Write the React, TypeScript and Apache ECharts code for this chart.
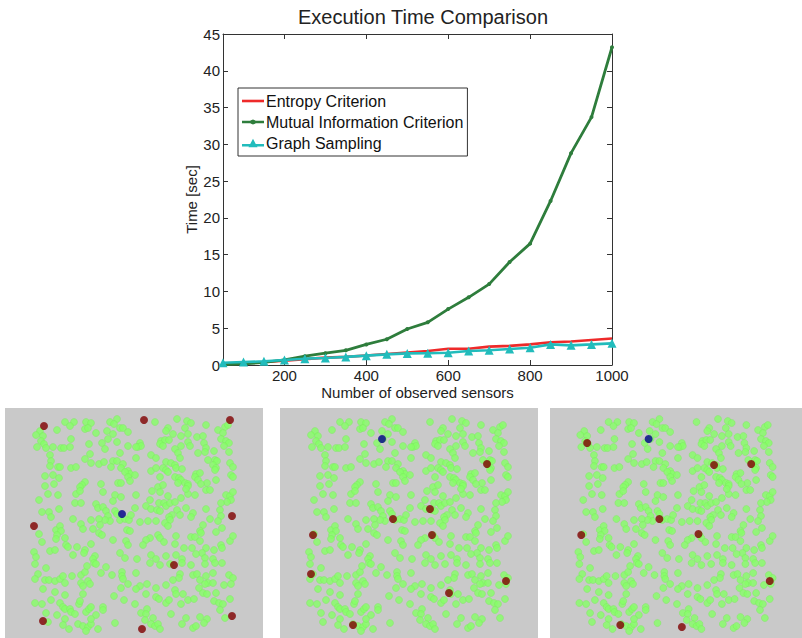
import React, { useEffect, useRef } from "react";
import * as echarts from "echarts";

const X_VALUES = [50, 100, 150, 200, 250, 300, 350, 400, 450, 500, 550, 600, 650, 700, 750, 800, 850, 900, 950, 1000];
const ENTROPY = [0.15, 0.25, 0.4, 0.6, 0.8, 1.0, 1.1, 1.3, 1.5, 1.7, 1.9, 2.2, 2.2, 2.5, 2.6, 2.8, 3.1, 3.2, 3.4, 3.6];
const MUTUAL_INFO = [0.05, 0.15, 0.35, 0.7, 1.2, 1.6, 2.0, 2.8, 3.5, 4.9, 5.8, 7.6, 9.2, 11.0, 14.0, 16.5, 22.3, 28.8, 33.7, 43.2];
const GRAPH_SAMPLING = [0.3, 0.4, 0.5, 0.68, 0.86, 0.95, 1.1, 1.27, 1.45, 1.58, 1.6, 1.67, 1.9, 2.0, 2.17, 2.35, 2.8, 2.67, 2.8, 2.94];
const X_TICKS = [200, 400, 600, 800, 1000];
const SERIES_NAMES = ["Entropy Criterion", "Mutual Information Criterion", "Graph Sampling"];

// sensor layout (same in all three panels), panel-relative units
const SENSORS: number[][] = [
  [60,14],[69,14],[65,18],[81,14],[86,15],[80,21],[83,20],[105,14],[112,11],[109,16],[115,20],[118,20],[123,24],[52,22],[35,23],[31,27],[38,28],[36,33],[39,36],[32,39],[41,40],[48,39],[56,40],[59,40],[65,39],[66,31],[91,25],[102,23],[108,26],[103,31],[97,35],[112,34],[100,41],[123,38],[84,36],[115,45],[45,47],[46,53],[45,58],[53,59],[55,59],[66,60],[71,59],[80,51],[85,46],[86,55],[94,56],[99,54],[108,53],[112,53],[106,59],[118,56],[116,60],[123,63],[125,66],[120,64],[40,68],[48,67],[54,70],[113,75],[116,75],[123,69],[125,73],[96,76],[80,74],[77,77],[40,78],[49,76],[75,79],
  [150,14],[172,11],[182,13],[186,15],[180,20],[163,20],[161,23],[168,26],[176,28],[183,26],[201,17],[192,29],[198,28],[213,22],[220,19],[223,17],[218,25],[216,31],[221,33],[224,35],[219,38],[224,44],[135,35],[133,39],[136,38],[131,39],[156,33],[160,32],[164,32],[155,36],[158,38],[183,34],[185,38],[176,38],[170,41],[173,45],[175,50],[199,35],[201,40],[200,44],[193,45],[209,43],[131,50],[146,47],[151,50],[161,54],[166,55],[170,57],[171,60],[177,61],[158,60],[161,62],[163,64],[146,63],[151,60],[155,69],[170,69],[174,70],[176,72],[173,75],[180,75],[183,76],[191,66],[195,65],[190,69],[193,72],[203,52],[210,52],[212,53],[208,57],[211,60],[210,62],[225,55],[228,59],[226,67],[228,69],[211,72],[202,75],[196,76],[153,79],[158,77],[130,67],[183,78],
  [43,86],[53,87],[34,92],[71,86],[75,83],[98,84],[110,87],[116,89],[108,93],[70,95],[76,95],[91,96],[93,100],[98,99],[101,103],[103,108],[105,113],[100,112],[110,103],[112,106],[115,112],[120,111],[124,112],[126,107],[54,101],[37,104],[44,104],[46,109],[68,111],[86,112],[94,111],[88,121],[95,117],[94,125],[97,127],[76,116],[78,121],[51,122],[55,118],[56,123],[52,127],[51,131],[60,130],[61,137],[63,139],[72,139],[80,142],[79,145],[86,136],[108,132],[122,122],[125,123],[121,133],[123,137],[34,126],[37,134],[29,144],[45,143],[50,142],[68,147],[90,148],[115,145],[120,150],[88,151],[31,149],
  [131,87],[147,83],[155,84],[163,88],[176,90],[183,86],[190,87],[181,81],[201,82],[205,82],[221,87],[225,88],[228,84],[226,92],[222,94],[216,95],[215,102],[216,108],[213,113],[217,120],[211,124],[145,92],[141,98],[146,101],[154,95],[159,95],[152,102],[155,103],[161,98],[165,95],[170,94],[172,102],[175,107],[167,107],[164,109],[165,112],[181,100],[188,105],[186,109],[201,101],[205,111],[135,114],[143,113],[151,113],[160,115],[163,118],[130,100],[198,117],[195,123],[196,125],[186,129],[190,129],[195,133],[171,128],[153,127],[155,130],[159,134],[145,130],[141,132],[138,137],[170,136],[179,140],[187,140],[201,140],[197,145],[191,146],[209,142],[216,137],[217,140],[225,133],[228,128],[146,147],[151,151],[161,148],[171,147],[177,151],[200,150],[208,151],[132,151],
  [30,156],[41,160],[33,166],[30,171],[40,172],[44,172],[50,173],[55,171],[58,168],[60,175],[67,168],[76,167],[80,164],[82,158],[89,155],[91,156],[101,159],[96,165],[107,167],[117,164],[117,168],[118,171],[123,176],[116,180],[76,175],[78,178],[83,173],[85,176],[38,181],[50,184],[60,187],[78,186],[30,195],[37,196],[46,192],[55,195],[58,199],[60,201],[65,201],[66,204],[70,206],[74,196],[75,193],[81,204],[84,201],[86,199],[91,207],[98,199],[98,202],[109,188],[119,192],[41,205],[52,207],[60,211],[43,214],[58,217],[64,221],[73,216],[78,218],[83,219],[86,216],[86,211],[93,221],[110,215],[81,223],
  [131,165],[145,155],[155,157],[165,156],[177,155],[186,157],[200,156],[210,155],[217,155],[175,166],[174,170],[168,172],[188,167],[192,166],[195,172],[201,168],[208,165],[203,175],[200,176],[194,180],[198,185],[202,186],[211,185],[208,175],[219,177],[224,167],[228,170],[226,176],[135,178],[131,181],[142,176],[151,180],[161,177],[170,182],[171,186],[178,186],[183,192],[189,191],[141,186],[151,189],[154,191],[161,195],[164,192],[176,196],[130,196],[209,193],[214,195],[218,196],[215,202],[225,191],[136,205],[142,201],[141,206],[148,210],[140,212],[146,216],[150,218],[153,216],[155,221],[166,206],[181,210],[195,209],[202,211],[199,215],[188,220],[191,218],[177,216],[220,210]
];

const SELECTED_1 = [[39,18],[139,12],[225,12],[227,108],[29,118],[169,157],[38,213],[137,221],[227,208]];
const SELECTED_2 = [[207,56],[150,101],[113,111],[33,127],[152,127],[31,166],[226,173],[169,185],[73,217]];
const SELECTED_3 = [[38,35],[168,57],[206,56],[112,111],[32,127],[152,126],[225,173],[72,217],[135,219]];
const SOURCE_1 = [[117,106]];
const SOURCE_2 = [[102,31]];
const SOURCE_3 = [[101,31]];

const PANEL_LEFTS = [5, 280, 550];

// legend glyphs: line sample with the series' marker
const ICON_LINE = "path://M0,0 L22,0 L22,2.6 L0,2.6 Z";
const ICON_DOT =
  "path://M0,2.7 L22,2.7 L22,5.3 L0,5.3 Z M11,1.5 L13.4,2.5 L13.6,5.5 L11,6.5 L8.6,5.5 L8.4,2.5 Z M11,0 L11,0.01 L11.01,0.01 Z M11,8 L11,7.99 L11.01,7.99 Z";
const ICON_TRI =
  "path://M0,5.2 L22,5.2 L22,7.8 L0,7.8 Z M11,0 L15.5,8.5 L6.5,8.5 Z";

export default function App() {
  const ref = useRef<HTMLDivElement>(null);
  useEffect(() => {
    if (!ref.current) return;
    const chart = echarts.init(ref.current, null, { renderer: "svg" });
    const font = "Liberation Sans";
    const axisColor = "#333";
    const lineData = (vals: number[]) => X_VALUES.map((x, i) => [x, vals[i]]);

    const grids: any[] = [
      { left: 223, top: 34, width: 389, height: 331, show: true, backgroundColor: "#fff", borderWidth: 0 },
    ];
    PANEL_LEFTS.forEach((l) => {
      grids.push({ left: l, top: 408, width: 258, height: 230, show: true, backgroundColor: "#c9c9c9", borderWidth: 0 });
    });

    const xAxes: any[] = [
      {
        gridIndex: 0, type: "value", min: 50, max: 1000, position: "bottom",
        axisLine: { show: true, onZero: false, lineStyle: { color: axisColor, width: 1 } },
        axisTick: { show: true, inside: true, length: 5, customValues: X_TICKS, lineStyle: { color: axisColor } },
        axisLabel: { customValues: X_TICKS, formatter: (v: number) => String(v), color: "#222", fontSize: 15, fontFamily: font, margin: 3 },
        splitLine: { show: false },
        name: "Number of observed sensors", nameLocation: "middle", nameGap: 20, nameMoveOverlap: false,
        nameTextStyle: { color: "#222", fontSize: 15, fontFamily: font },
      },
      {
        gridIndex: 0, type: "value", min: 50, max: 1000, position: "top",
        axisLine: { show: true, onZero: false, lineStyle: { color: axisColor, width: 1 } },
        axisTick: { show: true, inside: true, length: 5, customValues: X_TICKS, lineStyle: { color: axisColor } },
        axisLabel: { show: false },
        splitLine: { show: false },
      },
    ];
    const yAxes: any[] = [
      {
        gridIndex: 0, type: "value", min: 0, max: 45, interval: 5, position: "left",
        axisLine: { show: true, onZero: false, lineStyle: { color: axisColor, width: 1 } },
        axisTick: { show: true, inside: true, length: 5, lineStyle: { color: axisColor } },
        axisLabel: { color: "#222", fontSize: 15, fontFamily: font, margin: 3 },
        splitLine: { show: false },
        name: "Time [sec]", nameLocation: "middle", nameGap: 24, nameMoveOverlap: false,
        nameTextStyle: { color: "#222", fontSize: 15, fontFamily: font },
      },
      {
        gridIndex: 0, type: "value", min: 0, max: 45, interval: 5, position: "right",
        axisLine: { show: true, onZero: false, lineStyle: { color: axisColor, width: 1 } },
        axisTick: { show: true, inside: true, length: 5, lineStyle: { color: axisColor } },
        axisLabel: { show: false },
        splitLine: { show: false },
      },
    ];
    PANEL_LEFTS.forEach((_, i) => {
      xAxes.push({ gridIndex: i + 1, type: "value", min: 0, max: 258, show: false });
      yAxes.push({ gridIndex: i + 1, type: "value", min: 0, max: 230, inverse: true, show: false });
    });

    const panelSeries: any[] = [];
    const selected = [SELECTED_1, SELECTED_2, SELECTED_3];
    const sources = [SOURCE_1, SOURCE_2, SOURCE_3];
    PANEL_LEFTS.forEach((_, i) => {
      panelSeries.push({
        type: "scatter", xAxisIndex: i + 2, yAxisIndex: i + 2, data: SENSORS,
        symbolSize: 7, itemStyle: { color: "#86ff66", borderColor: "#7ae85c", borderWidth: 0.5 }, silent: true,
      });
      panelSeries.push({
        type: "scatter", xAxisIndex: i + 2, yAxisIndex: i + 2, data: selected[i],
        symbolSize: 8, itemStyle: { color: "#800000" }, silent: true,
      });
      panelSeries.push({
        type: "scatter", xAxisIndex: i + 2, yAxisIndex: i + 2, data: sources[i],
        symbolSize: 8, itemStyle: { color: "#00008b" }, silent: true,
      });
    });

    chart.setOption({
      animation: false,
      backgroundColor: "#fff",
      title: {
        text: "Execution Time Comparison", left: 418, top: 2, textAlign: "center",
        textStyle: { color: "#222", fontSize: 20, fontWeight: "normal", fontFamily: font },
      },
      legend: {
        orient: "vertical", left: 238, top: 88,
        data: [
          { name: SERIES_NAMES[0], icon: ICON_LINE },
          { name: SERIES_NAMES[1], icon: ICON_DOT },
          { name: SERIES_NAMES[2], icon: ICON_TRI },
        ],
        backgroundColor: "#fff", borderColor: "#333", borderWidth: 1,
        padding: [5, 4, 5, 4], itemGap: 5, itemWidth: 22, itemHeight: 14,
        textStyle: { color: "#111", fontSize: 16, fontFamily: font, padding: [0, 0, 0, -3] },
      },
      grid: grids,
      xAxis: xAxes,
      yAxis: yAxes,
      series: [
        {
          name: SERIES_NAMES[0], type: "line", xAxisIndex: 0, yAxisIndex: 0, data: lineData(ENTROPY),
          showSymbol: false, symbol: "none", lineStyle: { color: "#ee2a2a", width: 2.6 }, itemStyle: { color: "#ee2a2a" },
        },
        {
          name: SERIES_NAMES[1], type: "line", xAxisIndex: 0, yAxisIndex: 0, data: lineData(MUTUAL_INFO),
          symbol: "circle", symbolSize: 4, lineStyle: { color: "#2e7d3c", width: 2.8 }, itemStyle: { color: "#2e7d3c" },
        },
        {
          name: SERIES_NAMES[2], type: "line", xAxisIndex: 0, yAxisIndex: 0, data: lineData(GRAPH_SAMPLING),
          symbol: "triangle", symbolSize: 9, lineStyle: { color: "#22bcbc", width: 2.6 }, itemStyle: { color: "#22bcbc" },
        },
        ...panelSeries,
      ],
    });
    return () => chart.dispose();
  }, []);
  return <div ref={ref} style={{ position: "absolute", left: 0, top: 0, width: 802, height: 638 }} />;
}
